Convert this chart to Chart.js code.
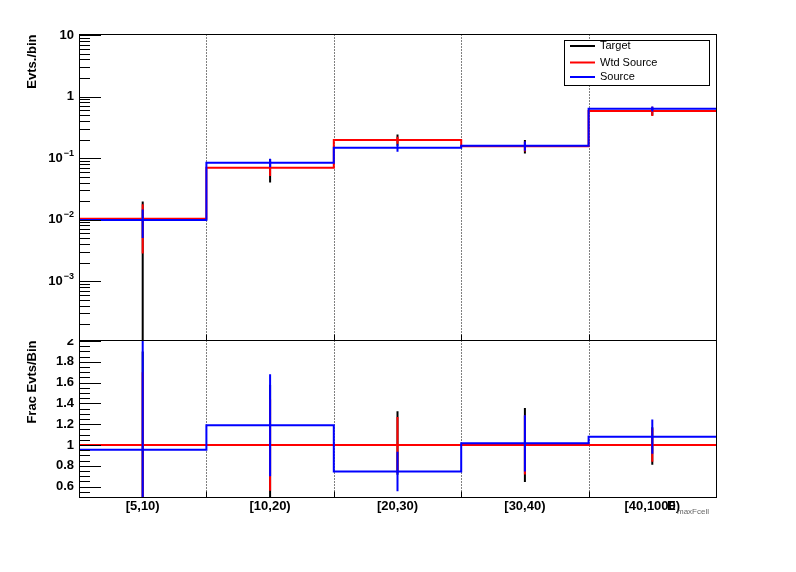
<!DOCTYPE html>
<html>
<head>
<meta charset="utf-8">
<script src="https://cdn.jsdelivr.net/npm/chart.js@4.4.1/dist/chart.umd.min.js"></script>
<style>
  html, body { margin: 0; padding: 0; background: #fff; }
  #wrap { position: relative; width: 796px; height: 572px; }
  #wrap canvas { position: absolute; left: 0; top: 0; }
</style>
</head>
<body>
<div id="wrap">
  <canvas id="evts-chart" width="796" height="572"></canvas>
  <canvas id="frac-chart" width="796" height="572"></canvas>
</div>
<script>
// ── Data ──────────────────────────────────────────────────────────────────
const categories  = ['[5,10)', '[10,20)', '[20,30)', '[30,40)', '[40,1000)'];
const seriesNames = ['Target', 'Wtd Source', 'Source'];
const seriesColors = ['#000000', '#ff0000', '#0000ff'];

// upper pad: Evts./bin (log)
const targetVals = [0.0098, 0.068, 0.200, 0.157, 0.575];
const targetErrs = [0.0098, 0.028, 0.042, 0.039, 0.085];
const wtdVals    = [0.0103, 0.0696, 0.196, 0.156, 0.584];
const wtdErrs    = [0.0075, 0.0186, 0.025, 0.028, 0.100];
const srcVals    = [0.0098, 0.084, 0.147, 0.158, 0.630];
const srcErrs    = [0.0048, 0.0135, 0.021, 0.027, 0.060];

// lower pad: Frac Evts/Bin
const fracTargetVals = [0.95, 0.98, 1.02, 1.00, 0.99];
const fracTargetErrs = [0.95, 0.60, 0.305, 0.355, 0.18];
const fracWtdVals    = [1, 1, 1, 1, 1];
const fracWtdErrs    = [0.70, 0.44, 0.27, 0.283, 0.16];
const fracSrcVals    = [0.955, 1.19, 0.745, 1.016, 1.08];
const fracSrcErrs    = [1.20, 0.49, 0.19, 0.27, 0.165];

const evtsTickVals   = [10, 1, 0.1, 0.01, 0.001];
const evtsTickLabels = ['10', '1', '10^-1', '10^-2', '10^-3'];
const fracTickVals   = [2, 1.8, 1.6, 1.4, 1.2, 1, 0.8, 0.6];
const fracTickLabels = ['2', '1.8', '1.6', '1.4', '1.2', '1', '0.8', '0.6'];

// ── Helpers ───────────────────────────────────────────────────────────────
const FONT = '"Liberation Sans", Arial, Helvetica, sans-serif';
const LABEL_X = 74;

function stepPoints(vals) {
    const pts = vals.map((v, i) => ({ x: i, y: v }));
    pts.push({ x: vals.length, y: vals[vals.length - 1] });
    return pts;
}

function errPoints(vals, errs, floor) {
    const pts = [];
    vals.forEach((v, i) => {
        pts.push({ x: i + 0.5, y: Math.max(v - errs[i], floor) });
        pts.push({ x: i + 0.5, y: v + errs[i] });
        pts.push({ x: i + 0.5, y: null });
    });
    return pts;
}

function lineSet(data, color, stepped) {
    return {
        data,
        borderColor: color,
        borderWidth: 2,
        pointRadius: 0,
        fill: false,
        tension: 0,
        spanGaps: false,
        stepped: stepped ? 'before' : false,
        clip: 0,
    };
}

// first dataset is painted last, so Source ends on top
function buildDatasets(t, te, w, we, s, se, floor) {
    return [
        lineSet(stepPoints(s), seriesColors[2], true),
        lineSet(errPoints(s, se, floor), seriesColors[2], false),
        lineSet(stepPoints(w), seriesColors[1], true),
        lineSet(errPoints(w, we, floor), seriesColors[1], false),
        lineSet(errPoints(t, te, floor), seriesColors[0], false),
    ];
}

// ── Pad decoration (frame, ROOT-style inner ticks, labels) ────────────────
function padDecor(cfg) {
    return {
        id: 'padDecor',
        beforeDatasetsDraw(chart) {
            const { ctx, chartArea: a, scales: { x } } = chart;
            ctx.save();
            ctx.strokeStyle = '#000';
            ctx.lineWidth = 1;
            ctx.setLineDash([1, 2]);
            ctx.beginPath();
            for (let i = 1; i < categories.length; i++) {
                const px = Math.round(x.getPixelForValue(i)) + 0.5;
                ctx.moveTo(px, cfg.frameTop);
                ctx.lineTo(px, cfg.frameBottom);
            }
            ctx.stroke();
            ctx.restore();
        },
        afterDraw(chart) {
            const { ctx, chartArea: a, scales: { x, y } } = chart;
            ctx.save();
            ctx.strokeStyle = '#000';
            ctx.fillStyle = '#000';
            ctx.lineWidth = 1;

            // frame
            ctx.strokeRect(a.left + 0.5, cfg.frameTop, a.right - a.left, cfg.frameBottom - cfg.frameTop);

            // bin-edge ticks on the lower axis
            ctx.beginPath();
            for (let i = 1; i < categories.length; i++) {
                const px = Math.round(x.getPixelForValue(i)) + 0.5;
                ctx.moveTo(px, cfg.frameBottom);
                ctx.lineTo(px, cfg.frameBottom - 6);
            }
            // y ticks pointing inward
            cfg.majors.forEach(v => {
                const py = Math.round(y.getPixelForValue(v)) + 0.5;
                ctx.moveTo(a.left, py);
                ctx.lineTo(a.left + 22, py);
            });
            cfg.minors(y).forEach(v => {
                const py = Math.round(y.getPixelForValue(v)) + 0.5;
                ctx.moveTo(a.left, py);
                ctx.lineTo(a.left + 11, py);
            });
            ctx.stroke();

            // y tick labels
            ctx.save();
            if (cfg.labelClipTop) {
                ctx.beginPath();
                ctx.rect(0, cfg.labelClipTop, 796, 572);
                ctx.clip();
            }
            ctx.textBaseline = 'middle';
            ctx.textAlign = 'right';
            cfg.majors.forEach((v, i) => {
                const py = y.getPixelForValue(v);
                const parts = cfg.labels[i].split('^');
                if (parts.length === 2) {
                    ctx.font = 'bold 9px ' + FONT;
                    const sup = parts[1].replace('-', '\u2212');
                    const supW = ctx.measureText(sup).width;
                    ctx.fillText(sup, LABEL_X, py - 5);
                    ctx.font = 'bold 13px ' + FONT;
                    ctx.fillText(parts[0], LABEL_X - supW - 1, py);
                } else {
                    ctx.font = 'bold 13px ' + FONT;
                    ctx.fillText(parts[0], LABEL_X, py);
                }
            });
            ctx.restore();

            // y axis title
            ctx.save();
            ctx.font = 'bold 13px ' + FONT;
            ctx.translate(32, cfg.frameTop);
            ctx.rotate(-Math.PI / 2);
            ctx.textAlign = 'right';
            ctx.textBaseline = 'middle';
            ctx.fillText(cfg.title, 0, 0);
            ctx.restore();

            if (cfg.legend) drawLegend(ctx);
            if (cfg.categoryLabels) drawCategoryLabels(ctx, x);
            ctx.restore();
        },
    };
}

function drawLegend(ctx) {
    ctx.save();
    ctx.fillStyle = '#fff';
    ctx.fillRect(564.5, 40.5, 145, 45);
    ctx.strokeStyle = '#000';
    ctx.lineWidth = 1;
    ctx.strokeRect(564.5, 40.5, 145, 45);
    const rows = [46, 62.5, 77];
    ctx.font = '11px ' + FONT;
    ctx.textBaseline = 'middle';
    ctx.textAlign = 'left';
    seriesNames.forEach((name, i) => {
        ctx.strokeStyle = seriesColors[i];
        ctx.lineWidth = 2;
        ctx.beginPath();
        ctx.moveTo(570, rows[i]);
        ctx.lineTo(595, rows[i]);
        ctx.stroke();
        ctx.fillStyle = '#000';
        ctx.fillText(name, 600, rows[i]);
    });
    ctx.restore();
}

function drawCategoryLabels(ctx, x) {
    ctx.save();
    ctx.font = 'bold 13px ' + FONT;
    ctx.textAlign = 'center';
    ctx.textBaseline = 'middle';
    ctx.fillStyle = '#000';
    categories.forEach((c, i) => ctx.fillText(c, x.getPixelForValue(i + 0.5), 506));
    // axis title, bottom right
    ctx.textAlign = 'left';
    ctx.fillText('E', 667, 506);
    ctx.font = '8px ' + FONT;
    ctx.fillStyle = '#666';
    ctx.fillText('maxFcell', 677, 512);
    ctx.restore();
}

function logMinors(y) {
    const out = [];
    for (let k = -4; k <= 0; k++) {
        for (let m = 2; m <= 9; m++) {
            const v = m * Math.pow(10, k);
            if (v > y.min && v < y.max) out.push(v);
        }
    }
    return out;
}

function fracMinors() {
    const out = [];
    for (let k = 11; k < 40; k++) if (k % 4 !== 0) out.push(k * 0.05);
    return out;
}

// ── Charts ────────────────────────────────────────────────────────────────
Chart.defaults.font.family = FONT;

function baseOptions(padding, yScale) {
    return {
        responsive: false,
        devicePixelRatio: 1,
        animation: false,
        events: [],
        layout: { padding },
        plugins: { legend: { display: false }, tooltip: { enabled: false } },
        scales: {
            x: { type: 'linear', min: 0, max: categories.length, display: false },
            y: yScale,
        },
    };
}

new Chart(document.getElementById('evts-chart'), {
    type: 'line',
    data: {
        datasets: buildDatasets(targetVals, targetErrs, wtdVals, wtdErrs, srcVals, srcErrs, 1e-9),
    },
    options: baseOptions(
        { left: 79, right: 80, top: 35, bottom: 231 },
        { type: 'logarithmic', min: 1.06e-4, max: 10, bounds: 'data', display: false }
    ),
    plugins: [padDecor({
        frameTop: 34.5, frameBottom: 340.5,
        majors: evtsTickVals, labels: evtsTickLabels, minors: logMinors,
        title: 'Evts./bin', legend: true,
    })],
});

new Chart(document.getElementById('frac-chart'), {
    type: 'line',
    data: {
        datasets: buildDatasets(fracTargetVals, fracTargetErrs, fracWtdVals, fracWtdErrs, fracSrcVals, fracSrcErrs, -10),
    },
    options: baseOptions(
        { left: 79, right: 80, top: 341, bottom: 75 },
        { type: 'linear', min: 0.5, max: 2, bounds: 'data', display: false }
    ),
    plugins: [padDecor({
        frameTop: 340.5, frameBottom: 497.5,
        majors: fracTickVals, labels: fracTickLabels, minors: fracMinors,
        title: 'Frac Evts/Bin', labelClipTop: 339, categoryLabels: true,
    })],
});
</script>
</body>
</html>
